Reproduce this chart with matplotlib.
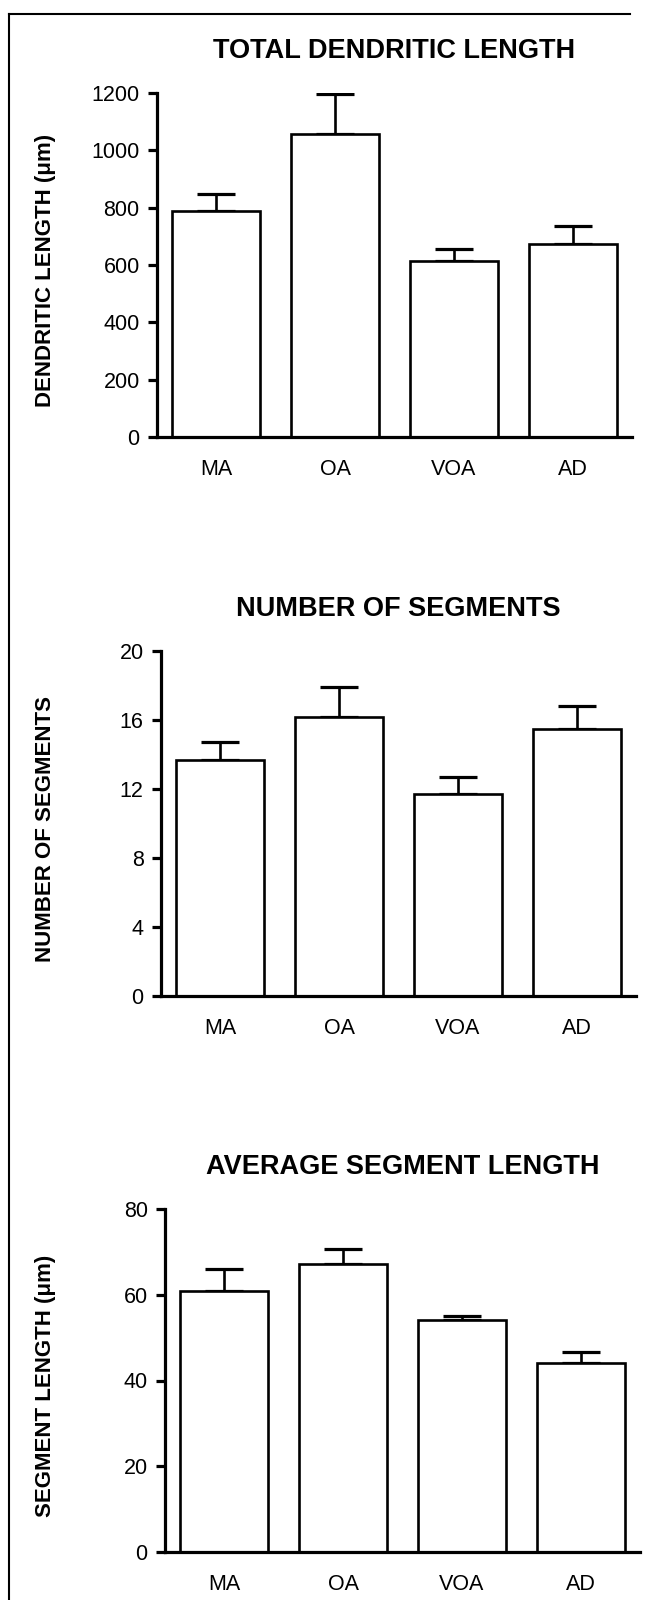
import matplotlib
matplotlib.use('Agg')
import matplotlib.pyplot as plt
from matplotlib.lines import Line2D

plt.rcParams['font.family'] = ['Liberation Sans', 'DejaVu Sans']

groups = ['MA', 'OA', 'VOA', 'AD']

length_mean = [789, 1058, 614, 673]
length_sem = [60, 140, 41, 63]
length_ticks = [0, 200, 400, 600, 800, 1000, 1200]

segments_mean = [13.7, 16.2, 11.7, 15.5]
segments_sem = [1.0, 1.7, 1.0, 1.3]
segments_ticks = [0, 4, 8, 12, 16, 20]

seglen_mean = [60.8, 67.2, 54.0, 44.0]
seglen_sem = [5.2, 3.5, 1.0, 2.6]
seglen_ticks = [0, 20, 40, 60, 80]

W, H = 652, 1600


def draw_panel(rect_px, title, ylabel, means, sems, ticks):
    left, top, right, bottom = rect_px
    ax = fig.add_axes([left / W, 1 - bottom / H, (right - left) / W, (bottom - top) / H])
    x = list(range(len(groups)))
    ax.bar(x, means, width=0.74, color='white', edgecolor='black', linewidth=1.9, zorder=2)
    ax.errorbar(x, means, yerr=[[0] * len(sems), sems], fmt='none', ecolor='black',
                elinewidth=1.9, capsize=14, capthick=2.3, zorder=1)
    ax.set_xlim(-0.5, 3.5)
    ax.set_ylim(0, ticks[-1])
    ax.set_yticks(ticks)
    ax.set_xticks(x)
    ax.set_xticklabels(groups)
    for s in ['top', 'right']:
        ax.spines[s].set_visible(False)
    for s in ['left', 'bottom']:
        ax.spines[s].set_linewidth(2.3)
    ax.tick_params(axis='y', length=6.5, width=2.3, pad=6, labelsize=15.5)
    ax.tick_params(axis='x', length=0, pad=16, labelsize=15.5)
    ax.set_title(title, fontsize=19.5, fontweight='bold', pad=25)
    ax.set_ylabel(ylabel, fontsize=16, fontweight='bold')
    ax.yaxis.set_label_coords((56 - left) / (right - left), 0.485)
    return ax


fig = plt.figure(figsize=(W / 100, H / 100), dpi=100)

draw_panel((157, 93, 632, 437), 'TOTAL DENDRITIC LENGTH', 'DENDRITIC LENGTH (\u03bcm)',
           length_mean, length_sem, length_ticks)
draw_panel((161, 651, 636, 996), 'NUMBER OF SEGMENTS', 'NUMBER OF SEGMENTS',
           segments_mean, segments_sem, segments_ticks)
draw_panel((165, 1209, 640, 1552), 'AVERAGE SEGMENT LENGTH', 'SEGMENT LENGTH (\u03bcm)',
           seglen_mean, seglen_sem, seglen_ticks)

# page frame (left and top edges only)
fig.add_artist(Line2D([9 / W, 9 / W], [0, 1 - 14 / H], transform=fig.transFigure,
                      color='black', linewidth=1.5))
fig.add_artist(Line2D([9 / W, 630 / W], [1 - 14 / H, 1 - 14 / H], transform=fig.transFigure,
                      color='black', linewidth=1.5))

fig.savefig('out.png', dpi=100)
